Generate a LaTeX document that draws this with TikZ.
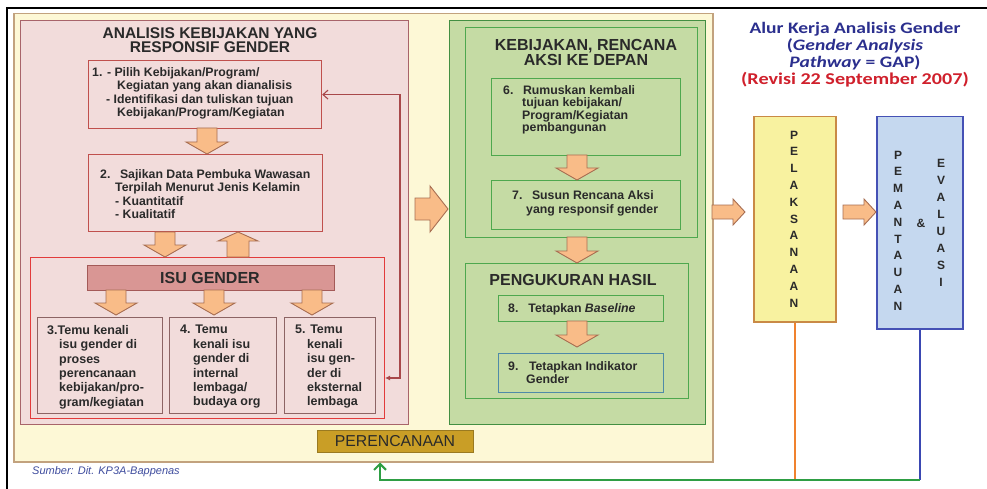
\documentclass[tikz,border=0pt]{standalone}
\usepackage{fontspec}
\setmainfont{Liberation Sans}
\newfontfamily\titlefont[FakeStretch=1.22]{Carlito}
\usetikzlibrary{arrows.meta}

\definecolor{cream}{HTML}{FDF8D6}
\definecolor{creamedge}{HTML}{C2A27E}
\definecolor{pinkfill}{HTML}{F2DCDB}
\definecolor{pinkedge}{HTML}{A8646A}
\definecolor{boxedge}{HTML}{C0504D}
\definecolor{isuedge}{HTML}{E23B3B}
\definecolor{isufill}{HTML}{D99694}
\definecolor{isubar}{HTML}{A45A58}
\definecolor{smalledge}{HTML}{8C6464}
\definecolor{greenfill}{HTML}{C5DBA4}
\definecolor{greenedge}{HTML}{4EA84E}
\definecolor{tealedge}{HTML}{4F8AA8}
\definecolor{goldfill}{HTML}{C99E26}
\definecolor{goldedge}{HTML}{9A7A20}
\definecolor{yelfill}{HTML}{F8F2A0}
\definecolor{yeledge}{HTML}{C98A46}
\definecolor{bluefill}{HTML}{C5D8EF}
\definecolor{blueedge}{HTML}{4551B5}
\definecolor{arrfill}{HTML}{F9BC88}
\definecolor{arredge}{HTML}{A86E52}
\definecolor{txt}{HTML}{2A2A2A}
\definecolor{navy}{HTML}{2B2F8E}
\definecolor{revred}{HTML}{D0202C}
\definecolor{fbcol}{HTML}{A8484A}
\definecolor{orangeline}{HTML}{F0822E}
\definecolor{blueline}{HTML}{3A48B2}
\definecolor{greenline}{HTML}{2E9E44}
\definecolor{srcblue}{HTML}{3E4C9E}

\newcommand{\arrD}[3]{\draw[blockarr] (#1-10,#2) -- (#1+10,#2) -- (#1+10,#3-12) -- (#1+21,#3-12) -- (#1,#3) -- (#1-21,#3-12) -- (#1-10,#3-12) -- cycle;}
\newcommand{\arrU}[3]{\draw[blockarr] (#1-11,#2) -- (#1+11,#2) -- (#1+11,#3+9) -- (#1+20,#3+9) -- (#1,#3) -- (#1-20,#3+9) -- (#1-11,#3+9) -- cycle;}
\newcommand{\arrR}[6]{\draw[blockarr] (#1,#3-#4) -- (#2-#6,#3-#4) -- (#2-#6,#3-#5) -- (#2,#3) -- (#2-#6,#3+#5) -- (#2-#6,#3+#4) -- (#1,#3+#4) -- cycle;}

\tikzset{
  rbox/.style={draw, inner sep=0pt, anchor=north west},
  pinkbox/.style={rbox, fill=pinkfill, draw=boxedge, line width=1.2pt},
  smallbox/.style={rbox, fill=pinkfill, draw=smalledge, line width=1.3pt},
  greenbox/.style={rbox, fill=greenfill, draw=greenedge, line width=1.2pt},
  blockarr/.style={fill=arrfill, draw=arredge, line width=0.9pt, line join=miter},
  ttl/.style={align=center, text=txt, font=\bfseries\fontsize{15.5}{14.5}\selectfont, inner sep=0pt},
  btxt/.style={align=left, anchor=north west, inner sep=0pt, text=txt, font=\bfseries\fontsize{12.3}{13.6}\selectfont},
  vtxt/.style={align=center, inner sep=0pt, text=txt, font=\bfseries\fontsize{12}{16.8}\selectfont},
}

\begin{document}
\begin{tikzpicture}[x=1pt,y=-1pt]
\useasboundingbox (0,0) rectangle (987,489);
\fill[white] (0,0) rectangle (987,489);
\draw[line width=1.5pt] (987,8) -- (7,8) -- (7,489);

% containers
\node[rbox, fill=cream, draw=creamedge, line width=1.5pt, minimum width=699, minimum height=448] (cream) at (13,13) {};
\node[rbox, fill=pinkfill, draw=pinkedge, line width=1.2pt, minimum width=388, minimum height=404] (pink) at (20,20) {};
\node[ttl] (t1) at (210,40) {ANALISIS KEBIJAKAN YANG\\RESPONSIF GENDER};

\node[pinkbox, minimum width=233, minimum height=68] (b1) at (88,60) {};
\node[btxt] (b1t) at (92,67) {1. - Pilih Kebijakan/Program/\\
\hspace*{25pt}Kegiatan yang akan dianalisis\\
\hspace*{14pt}- Identifikasi dan tuliskan tujuan\\
\hspace*{25pt}Kebijakan/Program/Kegiatan};

\node[pinkbox, minimum width=234, minimum height=77] (b2) at (88,154) {};
\node[btxt] (b2t) at (100,169) {2.\hspace{5pt} Sajikan Data Pembuka Wawasan\\
\hspace*{15pt}Terpilah Menurut Jenis Kelamin\\
\hspace*{15pt}- Kuantitatif\\
\hspace*{15pt}- Kualitatif};

\node[rbox, draw=isuedge, line width=1pt, minimum width=354, minimum height=161] (red) at (30,257) {};
\node[rbox, fill=isufill, draw=isubar, line width=1.2pt, minimum width=247, minimum height=25] (isu) at (87,265) {};
\node[ttl, font=\bfseries\fontsize{16}{16}\selectfont] (isut) at (210,278) {ISU GENDER};

\node[smallbox, minimum width=125, minimum height=96] (b3) at (37,317) {};
\node[smallbox, minimum width=107, minimum height=96] (b4) at (169,317) {};
\node[smallbox, minimum width=91, minimum height=96] (b5) at (284,317) {};
\node[btxt, font=\bfseries\fontsize{12.5}{14.4}\selectfont] (b3t) at (47,325) {3.Temu kenali\\
\hspace*{12pt}isu gender di\\
\hspace*{12pt}proses\\
\hspace*{12pt}perencanaan\\
\hspace*{12pt}kebijakan/pro-\\
\hspace*{12pt}gram/kegiatan};
\node[btxt, font=\bfseries\fontsize{12.5}{14.4}\selectfont] (b4t) at (180,325) {4. Temu\\
\hspace*{13pt}kenali isu\\
\hspace*{13pt}gender di\\
\hspace*{13pt}internal\\
\hspace*{13pt}lembaga/\\
\hspace*{13pt}budaya org};
\node[btxt, font=\bfseries\fontsize{12.5}{14.4}\selectfont] (b5t) at (295,325) {5. Temu\\
\hspace*{12pt}kenali\\
\hspace*{12pt}isu gen-\\
\hspace*{12pt}der di\\
\hspace*{12pt}eksternal\\
\hspace*{12pt}lembaga};

% green side
\node[greenbox, draw=greenedge!85!black, minimum width=256, minimum height=404] (green) at (449,20) {};
\node[greenbox, minimum width=232, minimum height=210] (keb) at (465,27) {};
\node[ttl, font=\bfseries\fontsize{16}{15}\selectfont] (kebt) at (586,52) {KEBIJAKAN, RENCANA\\AKSI KE DEPAN};
\node[greenbox, minimum width=189, minimum height=77] (b6) at (491,78) {};
\node[btxt, font=\bfseries\fontsize{12.3}{12.6}\selectfont] (b6t) at (503,85) {6.\hspace{5pt} Rumuskan kembali\\
\hspace*{19pt}tujuan kebijakan/\\
\hspace*{19pt}Program/Kegiatan\\
\hspace*{19pt}pembangunan};
\node[greenbox, minimum width=189, minimum height=49] (b7) at (491,180) {};
\node[btxt, font=\bfseries\fontsize{12.3}{14.5}\selectfont] (b7t) at (512,190) {7.\hspace{5pt} Susun Rencana Aksi\\
\hspace*{14pt}yang responsif gender};

\node[greenbox, minimum width=223, minimum height=135] (peng) at (465,263) {};
\node[ttl, font=\bfseries\fontsize{16}{16}\selectfont] (pengt) at (573,280) {PENGUKURAN HASIL};
\node[greenbox, minimum width=165, minimum height=26] (b8) at (498,295) {};
\node[btxt] (b8t) at (508,303) {8.\hspace{10pt}Tetapkan \textit{Baseline}};
\node[greenbox, draw=tealedge, minimum width=165, minimum height=39] (b9) at (498,353) {};
\node[btxt] (b9t) at (508,361) {9.\hspace{6pt} Tetapkan Indikator\\
\hspace*{18pt}Gender};

% planning label
\node[rbox, fill=goldfill, draw=goldedge, line width=1pt, minimum width=156, minimum height=22] (plan) at (317,430) {};
\node[text=txt, inner sep=0pt, font=\fontsize{15.8}{15.8}\selectfont] (plant) at (395,441.5) {PERENCANAAN};

\node[anchor=west, inner sep=0pt, text=srcblue, font=\itshape\fontsize{11}{11}\selectfont] (src) at (32,472) {Sumber: Dit. KP3A-Bappenas};

% right title
\node[align=center, inner sep=0pt, text=navy, font=\titlefont\bfseries\fontsize{16}{17.3}\selectfont] (rt) at (855,46) {Alur Kerja Analisis Gender\\(\textit{Gender Analysis}\\\textit{Pathway} = GAP)};
\node[inner sep=0pt, text=revred, font=\titlefont\bfseries\fontsize{16.5}{16.5}\selectfont] (rev) at (855,80) {(Revisi 22 September 2007)};

% implementation and monitoring
\node[rbox, fill=yelfill, draw=yeledge, line width=1.5pt, minimum width=82, minimum height=205] (pel) at (753,116) {};
\node[vtxt] (pelt) at (794,219) {P\\E\\L\\A\\K\\S\\A\\N\\A\\A\\N};
\node[rbox, fill=bluefill, draw=blueedge, line width=1.5pt, minimum width=86, minimum height=212] (pem) at (876,116) {};
\node[vtxt] (pemt) at (898,230.5) {P\\E\\M\\A\\N\\T\\A\\U\\A\\N};
\node[vtxt, font=\bfseries\fontsize{12}{17}\selectfont] (evt) at (941,222.5) {E\\V\\A\\L\\U\\A\\S\\I};
\node[vtxt] (amp) at (921,223) {\&};

% block arrows
\arrD{207}{128}{154}
\arrD{165}{232}{257}
\arrU{238}{257}{232}
\arrD{116}{290}{315}
\arrD{214}{290}{315}
\arrD{312}{290}{315}
\arrD{577}{155}{180}
\arrD{577}{237}{263}
\arrD{577}{321}{347}
\arrR{415}{448}{209}{11}{23}{18}
\arrR{712}{745}{212}{7}{13}{12}
\arrR{843}{876}{212}{7}{13}{12}

% feedback connector
\coordinate (fb) at (400,378);
\draw[fbcol, line width=1.1pt, {Straight Barb[length=5pt,width=9pt]}-{Latex[length=5pt,width=5pt]}] (b1.east) -| (fb) -- (fb -| red.east);

% bottom lines
\coordinate (gl) at (0,480);
\coordinate (retx) at (380,0);
\draw[orangeline, line width=2pt] (pel.south) -- (pel.south |- gl);
\draw[blueline, line width=2pt] (pem.south) -- (pem.south |- gl);
\draw[greenline, line width=2pt, -{Straight Barb[length=6pt,width=12pt]}] (pem.south |- gl) -| (cream.south -| retx);
\end{tikzpicture}
\end{document}
